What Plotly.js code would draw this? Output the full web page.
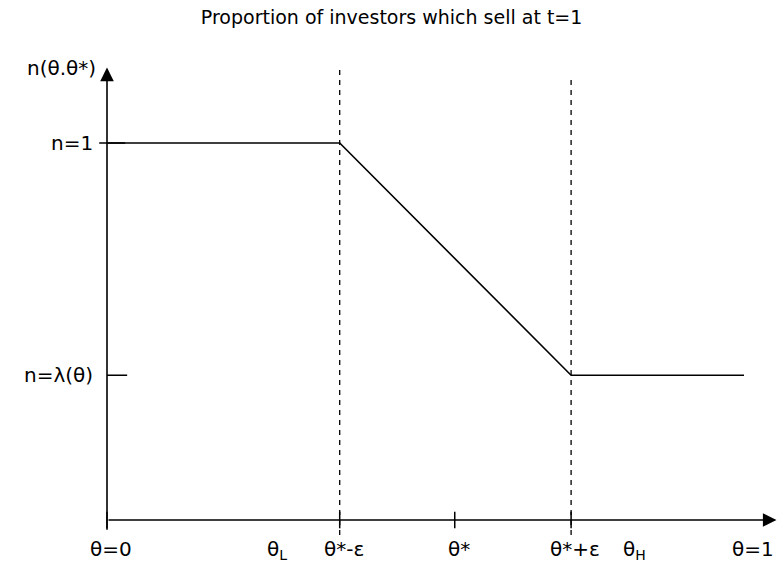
<!DOCTYPE html>
<html>
<head>
<meta charset="utf-8">
<script src="https://cdn.plot.ly/plotly-3.0.1.min.js"></script>
<style>html,body{margin:0;padding:0;background:#fff;}#chart{width:777px;height:565px;}</style>
</head>
<body>
<div id="chart"></div>
<script>
// Schematic values (theta on x, n on y)
const thetaStarMinusEps = 0.358;
const thetaStar = 0.535;
const thetaStarPlusEps = 0.714;
const thetaL = 0.256;
const thetaH = 0.806;
const thetaEnd = 0.98;
const nHigh = 1;
const nLambda = 0.384;

const curveX = [0, thetaStarMinusEps, thetaStarPlusEps, thetaEnd];
const curveY = [nHigh, nHigh, nLambda, nLambda];

const xTickVals = [0, thetaStarMinusEps, thetaStar, thetaStarPlusEps];
const xLabelVals = [0, thetaL, thetaStarMinusEps, thetaStar, thetaStarPlusEps, thetaH, 1];
const xLabelText = ['θ=0', 'θ<sub>L</sub>', 'θ*-ε', 'θ*', 'θ*+ε', 'θ<sub>H</sub>', 'θ=1'];
const yLabelVals = [nHigh, nLambda];
const yLabelText = ['n=1', 'n=λ(θ)'];
const yAxisTitle = 'n(θ.θ*)';
const dashedX = [thetaStarMinusEps, thetaStarPlusEps];
const dashedTop = [1.2, 1.18];
const yMax = 1.2;
const xMax = 1.03;

const font = {family: 'DejaVu Sans', size: 20, color: '#000'};
const titleFont = {family: 'DejaVu Sans', size: 19, color: '#000'};

const traces = [];
traces.push({x: curveX, y: curveY, mode: 'lines', line: {color: '#000', width: 1.6}, hoverinfo: 'skip'});
dashedX.forEach((xv, i) => {
  traces.push({x: [xv, xv], y: [-0.04, dashedTop[i]], mode: 'lines', line: {color: '#000', width: 1.3, dash: '5px,5px'}, hoverinfo: 'skip'});
});
xTickVals.forEach(xv => {
  traces.push({x: [xv, xv], y: [-0.022, 0.022], mode: 'lines', line: {color: '#000', width: 1.5}, hoverinfo: 'skip'});
});
traces.push({x: [-0.012, 0.028], y: [nHigh, nHigh], mode: 'lines', line: {color: '#000', width: 1.5}, hoverinfo: 'skip'});
traces.push({x: [0, 0.031], y: [nLambda, nLambda], mode: 'lines', line: {color: '#000', width: 1.5}, hoverinfo: 'skip'});

const annotations = [];
annotations.push({x: 0, y: yMax, ax: 0, ay: -0.03, xref: 'x', yref: 'y', axref: 'x', ayref: 'y', showarrow: true, arrowhead: 2, arrowsize: 1.7, arrowwidth: 1.6, arrowcolor: '#000', text: ''});
annotations.push({x: xMax, y: 0, ax: 0, ay: 0, xref: 'x', yref: 'y', axref: 'x', ayref: 'y', showarrow: true, arrowhead: 2, arrowsize: 1.7, arrowwidth: 1.6, arrowcolor: '#000', text: ''});
xLabelVals.forEach((xv, i) => {
  const last = i === xLabelVals.length - 1;
  annotations.push({x: xv, y: -0.04, xref: 'x', yref: 'y', text: xLabelText[i], showarrow: false, yanchor: 'top',
    xanchor: last ? 'right' : 'center', xshift: last ? 19 : 4, font: font});
});
yLabelVals.forEach((yv, i) => {
  annotations.push({x: -0.018, y: yv, xref: 'x', yref: 'y', text: yLabelText[i], showarrow: false, xanchor: 'right', yanchor: 'middle', font: font});
});
annotations.push({x: -0.014, y: 1.2, xref: 'x', yref: 'y', text: yAxisTitle, showarrow: false, xanchor: 'right', yanchor: 'middle', font: font});

const layout = {
  width: 777, height: 565,
  margin: {l: 0, r: 0, t: 0, b: 0},
  paper_bgcolor: '#fff', plot_bgcolor: '#fff',
  showlegend: false,
  title: {text: 'Proportion of investors which sell at t=1', font: titleFont, x: 0.504, xanchor: 'center', y: 1 - 17/565, yanchor: 'middle'},
  xaxis: {range: [-107/650, 670/650], visible: false, fixedrange: true},
  yaxis: {range: [-45/377, 520/377], visible: false, fixedrange: true},
  annotations: annotations
};

Plotly.newPlot('chart', traces, layout, {displayModeBar: false, staticPlot: true});
</script>
</body>
</html>
